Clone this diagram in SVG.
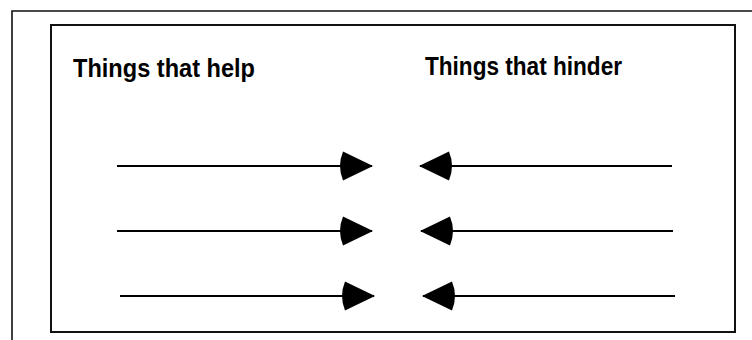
<svg xmlns="http://www.w3.org/2000/svg" width="752" height="340" viewBox="0 0 752 340">
  <style>
    .frame { fill: none; stroke: #111; }
    .label { font-family: "Liberation Sans", Arial, sans-serif; font-weight: bold; font-size: 26px; fill: #000; }
    .force { stroke: #000; stroke-width: 2; fill: none; marker-end: url(#head); }
  </style>
  <defs>
    <marker id="head" viewBox="0 0 34 30" refX="33" refY="15" markerWidth="34" markerHeight="30" markerUnits="userSpaceOnUse" orient="auto">
      <path d="M34,15 L4,0.5 Q-2,15 4,29.5 Z" fill="#000"/>
    </marker>
  </defs>
  <rect width="752" height="340" fill="#fff"/>
  <g id="outer-frame">
    <path class="frame" d="M12,340 L12,11 L752,11" stroke-width="1.6"/>
  </g>
  <g id="inner-frame">
    <rect class="frame" x="51" y="25" width="684" height="307" stroke-width="2"/>
  </g>
  <g id="help-label">
    <text class="label" x="73" y="77" textLength="182" lengthAdjust="spacingAndGlyphs">Things that help</text>
  </g>
  <g id="hinder-label">
    <text class="label" x="425" y="75" textLength="197" lengthAdjust="spacingAndGlyphs">Things that hinder</text>
  </g>
  <g id="connectors">
    <line class="force" x1="117" y1="166" x2="372" y2="166"/>
    <line class="force" x1="117" y1="231" x2="372" y2="231"/>
    <line class="force" x1="120" y1="296" x2="374" y2="296"/>
    <line class="force" x1="672" y1="166" x2="420" y2="166"/>
    <line class="force" x1="673" y1="231" x2="421" y2="231"/>
    <line class="force" x1="675" y1="296" x2="423" y2="296"/>
  </g>
</svg>
